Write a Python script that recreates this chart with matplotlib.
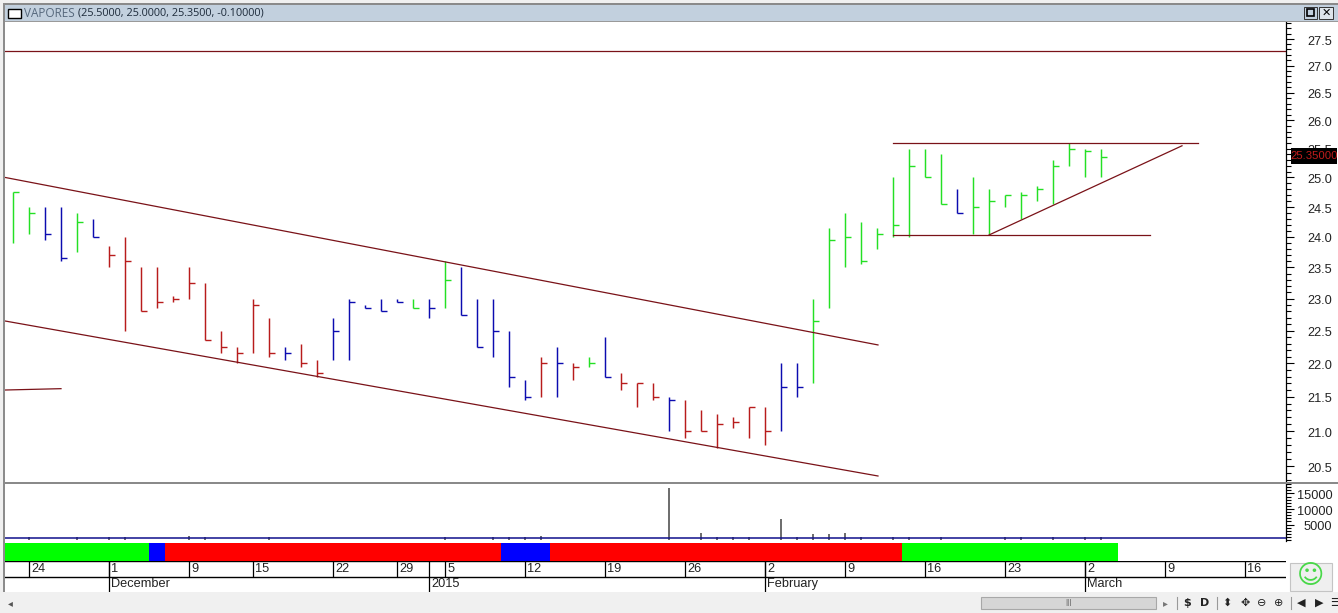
import matplotlib
matplotlib.use('Agg')
import matplotlib.pyplot as plt
from matplotlib.patches import Rectangle
from matplotlib.ticker import FixedLocator, NullFormatter
from matplotlib.transforms import ScaledTranslation

W, H = 1338, 613
plt.rcParams['font.family'] = ['Liberation Sans', 'DejaVu Sans']

# one bar per trading day, prices
highs = [24.75, 24.5, 24.5, 24.5, 24.4, 24.3, 23.85, 24.0, 23.5, 23.5,
         23.05, 23.5, 23.25, 22.5, 22.25, 23.0, 22.7, 22.25, 22.3, 22.05,
         22.7, 23.0, 22.9, 23.0, 23.0, 23.0, 23.0, 23.6, 23.5, 23.0,
         23.0, 22.5, 21.75, 22.1, 22.25, 22.0, 22.1, 22.4, 21.85, 21.7,
         21.7, 21.5, 21.45, 21.3, 21.25, 21.2, 21.35, 21.35, 22.0, 22.0,
         23.0, 24.15, 24.4, 24.25, 24.15, 25.0, 25.5, 25.5, 25.4, 24.8,
         25.0, 24.8, 24.7, 24.75, 24.85, 25.3, 25.6, 25.5, 25.5]
lows = [23.9, 24.05, 23.95, 23.6, 23.75, 24.0, 23.5, 22.5, 22.8, 22.85,
        22.95, 23.0, 22.35, 22.15, 22.0, 22.15, 22.1, 22.05, 21.95, 21.8,
        22.05, 22.05, 22.85, 22.8, 22.95, 22.85, 22.7, 22.85, 22.75, 22.25,
        22.1, 21.65, 21.45, 21.5, 21.5, 21.75, 21.95, 21.8, 21.6, 21.35,
        21.45, 21.0, 20.9, 21.0, 20.75, 21.05, 20.9, 20.8, 21.0, 21.5,
        21.7, 22.85, 23.5, 23.55, 23.8, 24.0, 24.0, 25.0, 24.55, 24.4,
        24.05, 24.05, 24.5, 24.3, 24.6, 24.55, 25.2, 25.0, 25.0]
closes = [24.75, 24.4, 24.05, 23.65, 24.25, 24.0, 23.7, 23.6, 22.8, 22.95,
          23.0, 23.25, 22.35, 22.25, 22.15, 22.9, 22.15, 22.15, 22.0, 21.85,
          22.5, 22.95, 22.85, 22.8, 22.95, 22.85, 22.85, 23.3, 22.75, 22.25,
          22.5, 21.8, 21.5, 22.0, 22.0, 21.95, 22.0, 21.8, 21.7, 21.7,
          21.5, 21.45, 21.0, 21.0, 21.1, 21.13, 21.35, 21.0, 21.65, 21.65,
          22.65, 23.95, 24.0, 23.6, 24.05, 24.2, 25.2, 25.0, 24.55, 24.4,
          24.5, 24.6, 24.7, 24.7, 24.8, 25.2, 25.5, 25.45, 25.35]
bar_colors = ('ggbbgb' + 'r' * 11 + 'b' + 'rr' + 'bbbbb' + 'gbg' + 'bbbbb' + 'rbrgb' + 'rrr' + 'b'
              + 'r' * 6 + 'bb' + 'g' * 9 + 'b' + 'g' * 9)

volumes = [0, 950, 0, 0, 950, 0, 950, 950, 0, 0, 0, 1150, 950, 0, 0, 0, 950,
           0, 0, 0, 0, 0, 0, 0, 0, 0, 0, 950, 0, 0, 950, 950, 950, 1150, 0, 0,
           0, 0, 0, 0, 0, 16770, 0, 2260, 950, 950, 950, 0, 6680, 950, 1935,
           1935, 2160, 950, 0, 950, 950, 0, 950, 0, 0, 0, 950, 950, 0, 950, 0,
           950, 950]
volume_level = 550

# trend lines: start bar, start price, end bar, end price
channel_top = [-0.5, 25.0, 54.06, 22.28]
channel_bottom = [-0.5, 22.65, 54.06, 20.36]
short_line = [-0.5, 21.6, 3.0, 21.62]
resistance = [55.0, 25.6, 74.06, 25.6]
support = [55.0, 24.03, 71.06, 24.03]
triangle_side = [61.0, 24.03, 73.06, 25.55]
top_level = 27.27

price_ticks = [20.5, 21.0, 21.5, 22.0, 22.5, 23.0, 23.5, 24.0, 24.5, 25.0,
               25.5, 26.0, 26.5, 27.0, 27.5]
volume_ticks = [5000, 10000, 15000]

regime_edges = [-0.5, 8.5, 9.5, 30.5, 33.56, 55.56, 69.06]
regime_colors = ['#00ff00', '#0000ff', '#ff0000', '#0000ff', '#ff0000', '#00ff00']

day_bars = [1, 6, 11, 15, 20, 24, 27, 32, 37, 42, 47, 52, 57, 62, 67, 72, 77]
day_labels = ['24', '1', '9', '15', '22', '29', '5', '12', '19', '26', '2', '9',
              '16', '23', '2', '9', '16']
month_bars = [6, 26, 47, 67]
month_labels = ['December', '2015', 'February', 'March']

colors = {'g': '#24e024', 'b': '#0c0cb0', 'r': '#b81c1c'}
LINE = '#7a1218'
X0, X1 = -0.5, 79.56


def panel(left, top, right, bottom):
    return fig.add_axes([left / W, 1 - bottom / H, (right - left) / W, (bottom - top) / H])


def trend(ax, seg):
    ax.plot([seg[0], seg[2]], [seg[1], seg[3]], color=LINE, lw=0.9)


def nudge_labels(a):
    # labels sit about a pixel lower in the reference
    shift = ScaledTranslation(0, -1.2 / 100, fig.dpi_scale_trans)
    for lbl in a.get_yticklabels():
        lbl.set_transform(lbl.get_transform() + shift)


fig = plt.figure(figsize=(W / 100, H / 100), dpi=100, facecolor='white')

# price panel
ax = panel(5, 22, 1286, 481)
ax.set_yscale('log')
ax.set_xlim(X0, X1)
ax.set_ylim(20.29, 27.82)
for i in range(len(highs)):
    c = colors[bar_colors[i]]
    ax.plot([i, i], [lows[i], highs[i]], color=c, lw=1.05, solid_capstyle='butt')
    ax.plot([i, i + 0.4], [closes[i], closes[i]], color=c, lw=1.0, solid_capstyle='butt')
for seg in [channel_top, channel_bottom, short_line, resistance, support, triangle_side]:
    trend(ax, seg)
ax.axhline(top_level, color=LINE, lw=0.9)

ax.yaxis.tick_right()
ax.yaxis.set_major_locator(FixedLocator(price_ticks))
ax.yaxis.set_minor_locator(FixedLocator([t / 10 for t in range(203, 279)]))
ax.yaxis.set_minor_formatter(NullFormatter())
ax.set_yticklabels(['%.1f' % t for t in price_ticks], ha='right', fontsize=9.2, color='#222222')
ax.tick_params(axis='y', which='major', length=6, width=0.8, pad=27.4)
ax.tick_params(axis='y', which='minor', length=3.6, width=0.8)
ax.set_xticks([])
nudge_labels(ax)

# volume panel
vax = panel(5, 484, 1286, 541)
vax.set_xlim(X0, X1)
vax.set_ylim(-322, 18064)
vax.vlines(range(len(volumes)), 0, volumes, color='#606060', lw=1.3)
vax.axhline(volume_level, color='#10108c', lw=1.1)
vax.yaxis.tick_right()
vax.yaxis.set_major_locator(FixedLocator(volume_ticks))
vax.yaxis.set_minor_locator(FixedLocator(range(0, 18001, 1000)))
vax.yaxis.set_minor_formatter(NullFormatter())
vax.set_yticklabels([str(t) for t in volume_ticks], ha='right', fontsize=9.2, color='#222222')
vax.tick_params(axis='y', which='major', length=6, width=0.8, pad=27.4)
vax.tick_params(axis='y', which='minor', length=3.6, width=0.8)
vax.set_xticks([])
nudge_labels(vax)

for a in (ax, vax):
    for s in ('top', 'left', 'bottom'):
        a.spines[s].set_visible(False)
    a.spines['right'].set_linewidth(0.9)

# regime strip
sax = panel(5, 543, 1286, 561)
sax.set_xlim(X0, X1)
sax.set_ylim(0, 1)
for k, c in enumerate(regime_colors):
    sax.axvspan(regime_edges[k], regime_edges[k + 1], color=c, lw=0)
sax.axis('off')

# date rows
dax = panel(5, 561, 1286, 592)
dax.set_xlim(X0, X1)
dax.set_ylim(2, 0)
dax.axis('off')
dax.axhline(0, color='black', lw=1.0)
dax.axhline(1, color='black', lw=1.0)
dax.vlines(day_bars, 0, 1, color='black', lw=0.9)
dax.vlines(month_bars, 0, 2, color='black', lw=0.9)
for b, t in zip(day_bars, day_labels):
    dax.text(b + 0.14, 0.5, t, fontsize=9.2, va='center', ha='left', color='#222222')
for b, t in zip(month_bars, month_labels):
    dax.text(b + 0.14, 1.5, t, fontsize=9.2, va='center', ha='left', color='#222222')

# window frame, drawn over the panels
cx = fig.add_axes([0, 0, 1, 1], zorder=10, facecolor='none')
cx.set_xlim(0, W)
cx.set_ylim(H, 0)
cx.axis('off')


def box(x0, y0, x1, y1, fc, ec='none', lw=0.8):
    cx.add_patch(Rectangle((x0, y0), x1 - x0, y1 - y0, facecolor=fc, edgecolor=ec, lw=lw))


box(0, 0, W, 3, '#f0f0f0')
box(3, 3, W, 5, '#8a8a8a')
box(3, 5, W, 21, '#c2d0de')
box(3, 21, W, 22, '#9a9a9a')
box(3, 3, 5, 592, '#8c8c8c')
box(0, 3, 3, 613, '#f0f0f0')
box(5, 482, 1286, 484, '#8a8a8a')
box(1286, 482, W, 484, '#8a8a8a')
box(0, 592, W, H, '#f0f0f0')

box(8, 9, 21, 18, 'white', 'black', 1.0)
cx.text(24, 13.3, 'VAPORES', fontsize=8.5, family=['Open Sans'], color='#56687c', va='center')
cx.text(78, 13.3, '(25.5000, 25.0000, 25.3500, -0.10000)', fontsize=7.8,
        family=['Open Sans'], color='#1c2a3a', va='center')
box(1304, 7, 1317, 19, '#c2d0de', '#333333', 0.7)
box(1307, 9, 1314, 16, 'none', 'black', 1.2)
box(1319, 7, 1333, 19, '#dde4ea', '#333333', 0.7)
cx.text(1326, 13, '✕', fontsize=8, ha='center', va='center', color='black',
        family=['DejaVu Sans'], fontweight='bold')

# last price badge
box(1291, 148, 1337, 164, 'black')
cx.text(1314, 156.3, '25.35000', fontsize=8.2, color='#c01c1c', ha='center', va='center')

# smiley button
box(1290, 563, 1332, 591, '#efefef', '#c4c4c4', 0.8)
cx.text(1311, 576, '☺', fontsize=19, color='#48d848', ha='center', va='center',
        family=['DejaVu Sans'])

# scroll bar and toolbar
cx.text(10, 603, '◂', fontsize=7, color='#555555', ha='center', va='center', family=['DejaVu Sans'])
box(981, 597, 1156, 609, '#d6d6d6', '#a8a8a8', 0.8)
cx.text(1068, 603, '|||', fontsize=6, color='#555555', ha='center', va='center')
cx.text(1165, 603, '▸', fontsize=7, color='#777777', ha='center', va='center', family=['DejaVu Sans'])
for x in (1177, 1217, 1291):
    cx.plot([x, x], [597, 609], color='#999999', lw=0.8)
tools = [(1187, '$', 'bold'), (1205, 'D', 'bold'), (1227, '⬍', 'normal'), (1245, '✥', 'normal'),
         (1262, '⊖', 'normal'), (1279, '⊕', 'normal'), (1301, '◀', 'normal'),
         (1319, '▶', 'normal'), (1335, '☰', 'normal')]
for x, s, w in tools:
    cx.text(x, 603, s, fontsize=8, fontweight=w, color='#222222', ha='center', va='center',
            family=['DejaVu Sans'])

fig.savefig('out.png', dpi=100)
